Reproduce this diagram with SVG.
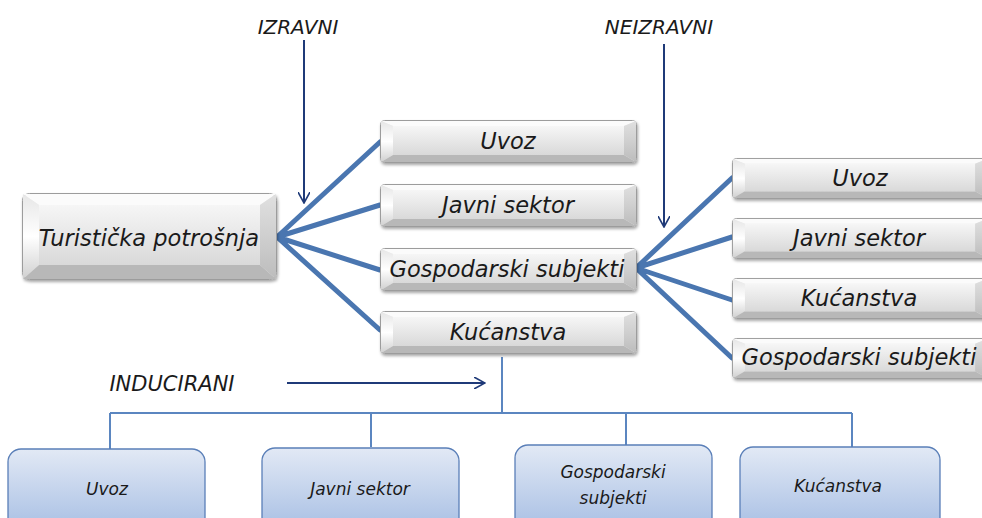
<svg xmlns="http://www.w3.org/2000/svg" width="982" height="518" viewBox="0 0 982 518">
<defs>
<linearGradient id="gInner" x1="0" y1="0" x2="0" y2="1">
<stop offset="0" stop-color="#f6f6f6"/><stop offset="1" stop-color="#d9d9d9"/>
</linearGradient>
<linearGradient id="gLeft" x1="0" y1="0" x2="0" y2="1">
<stop offset="0" stop-color="#e6e6e6"/><stop offset="0.5" stop-color="#ffffff"/><stop offset="1" stop-color="#d0d0d0"/>
</linearGradient>
<linearGradient id="gRight" x1="0" y1="0" x2="0" y2="1">
<stop offset="0" stop-color="#e0e0e0"/><stop offset="0.5" stop-color="#cfcfcf"/><stop offset="1" stop-color="#bcbcbc"/>
</linearGradient>
<linearGradient id="gBlue" x1="0" y1="0" x2="0" y2="1">
<stop offset="0" stop-color="#e2e9f5"/><stop offset="1" stop-color="#a5bde3"/>
</linearGradient>
<filter id="sh" x="-10%" y="-20%" width="120%" height="150%">
<feDropShadow dx="1" dy="2" stdDeviation="1.5" flood-color="#000" flood-opacity="0.35"/>
</filter>
<symbol id="bev" viewBox="0 0 257 43" preserveAspectRatio="none">
<rect x="0.5" y="0.5" width="256" height="42" rx="4" fill="#ececec" stroke="#9c9c9c"/>
<polygon points="1,1 256,1 244,6 13,6" fill="#fbfbfb"/>
<polygon points="1,1 13,6 13,35 1,42" fill="url(#gLeft)"/>
<polygon points="256,1 244,6 244,35 256,42" fill="url(#gRight)"/>
<polygon points="1,42 13,35 244,35 256,42" fill="#b8b8b8"/>
<rect x="13" y="6" width="231" height="29" fill="url(#gInner)"/>
</symbol>
<symbol id="bevBig" viewBox="0 0 255 87" preserveAspectRatio="none">
<rect x="0.5" y="0.5" width="254" height="86" rx="7" fill="#ececec" stroke="#9c9c9c"/>
<polygon points="1,1 254,1 238,12 17,12" fill="#fbfbfb"/>
<polygon points="1,1 17,12 17,72 1,86" fill="url(#gLeft)"/>
<polygon points="254,1 238,12 238,72 254,86" fill="url(#gRight)"/>
<polygon points="1,86 17,72 238,72 254,86" fill="#b8b8b8"/>
<rect x="17" y="12" width="221" height="60" fill="url(#gInner)"/>
</symbol>
<marker id="arr" viewBox="0 0 12 12" refX="11" refY="6" markerWidth="12" markerHeight="12" markerUnits="userSpaceOnUse" orient="auto">
<path d="M0,0 L11,6 L0,12" fill="none" stroke="#1f3a78" stroke-width="1.6"/>
</marker>
</defs>
<style>
.sh{filter:url(#sh)}
.bb{fill:url(#gBlue);stroke:#5a7fb8;stroke-width:1.3}
.t{font-family:"DejaVu Sans",sans-serif;font-style:italic;fill:#1a1a1a;text-anchor:middle}
.m{font-size:22.5px}
.s{font-size:17px}
.lab{font-family:"DejaVu Sans",sans-serif;font-style:italic;fill:#1a1a1a;font-size:20px;text-anchor:middle}
.fan{stroke:#4a76b0;stroke-width:5;fill:none;stroke-linecap:round}
.tree{stroke:#5b86c0;stroke-width:2;fill:none}
.ar{stroke:#1f3a78;stroke-width:2;fill:none;marker-end:url(#arr)}
</style>

<g id="connectors">
<path class="fan" d="M277,237 L380,142 M277,237 L380,205 M277,237 L380,270 M277,237 L380,330"/>
<path class="fan" d="M636,268 L732,178 M636,268 L732,237 M636,268 L732,300 M636,268 L732,358"/>
<path class="tree" d="M502,357 V413 M110,413 H852 M110,413 V449 M371,413 V447 M626,413 V445 M852,413 V447"/>
<line class="ar" x1="304" y1="40" x2="304" y2="203"/>
<line class="ar" x1="664" y1="44" x2="664" y2="227"/>
<line class="ar" x1="287" y1="383" x2="485" y2="383"/>
</g>

<g id="label-izravni"><text class="lab" x="298" y="34">IZRAVNI</text></g>
<g id="label-neizravni"><text class="lab" x="659" y="34">NEIZRAVNI</text></g>
<g id="label-inducirani"><text class="lab" x="172" y="391" style="font-size:21px">INDUCIRANI</text></g>

<g id="n-turisticka">
<use href="#bevBig" class="sh" x="22" y="193" width="255" height="87"/>
<text class="t" x="149" y="246" style="font-size:22.5px">Turistička potrošnja</text>
</g>

<g id="n-m-uvoz">
<use href="#bev" class="sh" x="380" y="120" width="257" height="43"/>
<text class="t m" x="508" y="149">Uvoz</text>
</g>
<g id="n-m-javni">
<use href="#bev" class="sh" x="380" y="184" width="257" height="43"/>
<text class="t m" x="508" y="213">Javni sektor</text>
</g>
<g id="n-m-gosp">
<use href="#bev" class="sh" x="380" y="248" width="257" height="43"/>
<text class="t m" x="507" y="277">Gospodarski subjekti</text>
</g>
<g id="n-m-kuc">
<use href="#bev" class="sh" x="380" y="311" width="257" height="43"/>
<text class="t m" x="508" y="340">Kućanstva</text>
</g>

<g id="n-r-uvoz">
<use href="#bev" class="sh" x="732" y="158" width="256" height="41"/>
<text class="t m" x="860" y="186">Uvoz</text>
</g>
<g id="n-r-javni">
<use href="#bev" class="sh" x="732" y="218" width="256" height="41"/>
<text class="t m" x="859" y="246">Javni sektor</text>
</g>
<g id="n-r-kuc">
<use href="#bev" class="sh" x="732" y="278" width="256" height="41"/>
<text class="t m" x="859" y="306">Kućanstva</text>
</g>
<g id="n-r-gosp">
<use href="#bev" class="sh" x="732" y="338" width="256" height="41"/>
<text class="t m" x="859" y="365">Gospodarski subjekti</text>
</g>

<g id="n-b-uvoz">
<rect class="bb" x="8" y="449" width="197" height="85" rx="13"/>
<text class="t s" x="107" y="495">Uvoz</text>
</g>
<g id="n-b-javni">
<rect class="bb" x="262" y="448" width="197" height="86" rx="13"/>
<text class="t s" x="360" y="495">Javni sektor</text>
</g>
<g id="n-b-gosp">
<rect class="bb" x="515" y="445" width="197" height="89" rx="13"/>
<text class="t s" x="613" y="478">Gospodarski</text>
<text class="t s" x="613" y="504">subjekti</text>
</g>
<g id="n-b-kuc">
<rect class="bb" x="740" y="447" width="200" height="87" rx="13"/>
<text class="t s" x="838" y="492">Kućanstva</text>
</g>
</svg>
